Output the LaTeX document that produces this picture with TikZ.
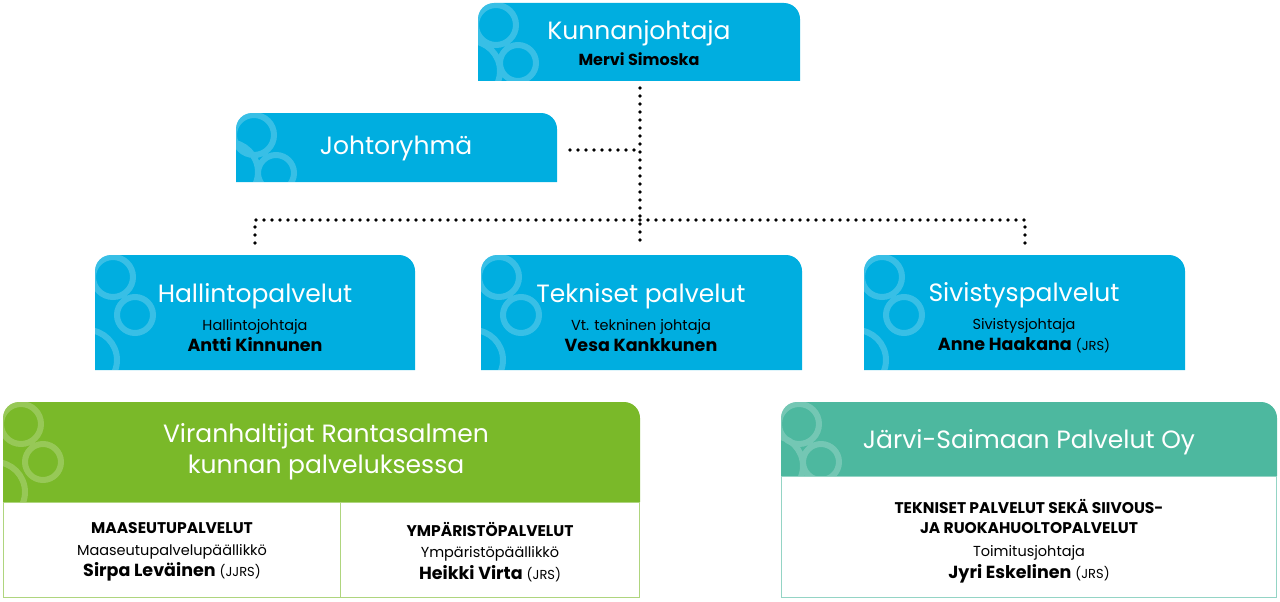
\documentclass[tikz,border=0pt]{standalone}
\usepackage{fontspec}
\setmainfont{Poppins}
\usetikzlibrary{positioning, calc}
\definecolor{kblue}{HTML}{00AEE0}
\definecolor{kgreen}{HTML}{7AB929}
\definecolor{kteal}{HTML}{4DB89F}
\tikzset{%
    dots/.style={line width=3.8pt, line cap=round, dash pattern=on 0pt off 8pt},
    titletext/.style={text=white, font=\fontsize{25}{31}\selectfont, align=center},
    boxtext/.style={align=center, inner sep=0pt, font=\fontsize{15}{21.5}\selectfont},
}
\newcommand{\ttl}{\fontsize{25}{30}\selectfont}
\newcommand{\sml}{\fontsize{14.5}{19}\selectfont}
\newcommand{\nme}{\fontsize{17.5}{22}\selectfont\bfseries}
\newcommand{\capt}{\fontsize{15.5}{19}\selectfont\bfseries}
\newcommand{\abbr}{\fontsize{13}{15}\selectfont}
% box with rounded top corners: fill, x1, y1, x2, y2
\newcommand{\topbox}[5]{%
    \fill[#1] (#2,#5) [rounded corners=16pt] -- (#2,#3) -- (#4,#3) [sharp corners] -- (#4,#5) -- cycle;
    \begin{scope}
    \clip[rounded corners=16pt] (#2,#5) -- (#2,#3) -- (#4,#3) -- (#4,#5) -- cycle;
    \draw[white, opacity=0.22, line width=6pt] (#2,#5) ++(-8,-10) circle (30) (#2,#3) ++(18,22) circle (20) (#2,#3) ++(40,60) circle (18);
    \end{scope}}
\begin{document}
\begin{tikzpicture}[x=1pt, y=-1pt]
	\useasboundingbox (0,0) rectangle (1280,602);
	% upper boxes
	\topbox{kblue}{478}{3}{800}{81}
	\topbox{kblue}{236}{113}{557}{182}
	\topbox{kblue}{95}{255}{415}{370}
	\topbox{kblue}{481}{255}{802}{370}
	\topbox{kblue}{864}{255}{1185}{370}
	% lower boxes
	\topbox{kgreen}{3}{402}{640}{502}
	\draw[kgreen!60, line width=1pt] (3.5,502) rectangle (639.5,597) (340,502) -- (340,597);
	\topbox{kteal}{781}{402}{1277}{476}
	\draw[kteal!60, line width=1pt] (781.5,476) rectangle (1276.5,597);

	\node[boxtext] (kj) at (639,43) {\textcolor{white}{\ttl Kunnanjohtaja}\\[5pt]
		{\fontsize{16}{19}\selectfont\bfseries Mervi Simoska}};
	\node[titletext] (jr) at (396,148) {Johtoryhmä};
	\node[boxtext] (hp) at (255,318) {\textcolor{white}{\ttl Hallintopalvelut}\\[6pt]
		{\sml Hallintojohtaja}\\
		{\nme Antti Kinnunen}};
	\node[boxtext] (tp) at (641,318) {\textcolor{white}{\ttl Tekniset palvelut}\\[6pt]
		{\sml Vt. tekninen johtaja}\\
		{\nme Vesa Kankkunen}};
	\node[boxtext] (sp) at (1024,318) {\textcolor{white}{\ttl Sivistyspalvelut}\\[6pt]
		{\sml Sivistysjohtaja}\\
		{\nme Anne Haakana} {\abbr (JRS)}};
	\node[titletext, inner sep=0pt] (vr) at (326,452) {Viranhaltijat Rantasalmen\\kunnan palveluksessa};
	\node[titletext, inner sep=0pt] (js) at (1029,442) {Järvi-Saimaan Palvelut Oy};
	\node[boxtext] (mp) at (172,552) {{\capt MAASEUTUPALVELUT}\\
		{\sml Maaseutupalvelupäällikkö}\\
		{\nme Sirpa Leväinen} {\abbr (JJRS)}};
	\node[boxtext] (yp) at (490,552) {{\capt YMPÄRISTÖPALVELUT}\\
		{\sml Ympäristöpäällikkö}\\
		{\nme Heikki Virta} {\abbr (JRS)}};
	\node[boxtext] (jp) at (1029,541) {{\capt TEKNISET PALVELUT SEKÄ SIIVOUS-}\\[-2pt]
		{\capt JA RUOKAHUOLTOPALVELUT}\\[2pt]
		{\sml Toimitusjohtaja}\\
		{\nme Jyri Eskelinen} {\abbr (JRS)}};

	% dotted connectors
	\coordinate (top) at (640,88);
	\coordinate (mid) at (640,220);
	\coordinate (jrend) at (570,150);
	\draw[dots] (top) -- (640,243);
	\draw[dots] (jrend) -- (640,150);
	\draw[dots] (255,243) -- (255,220) -- (1025,220) -- (1025,243);
\end{tikzpicture}
\end{document}
